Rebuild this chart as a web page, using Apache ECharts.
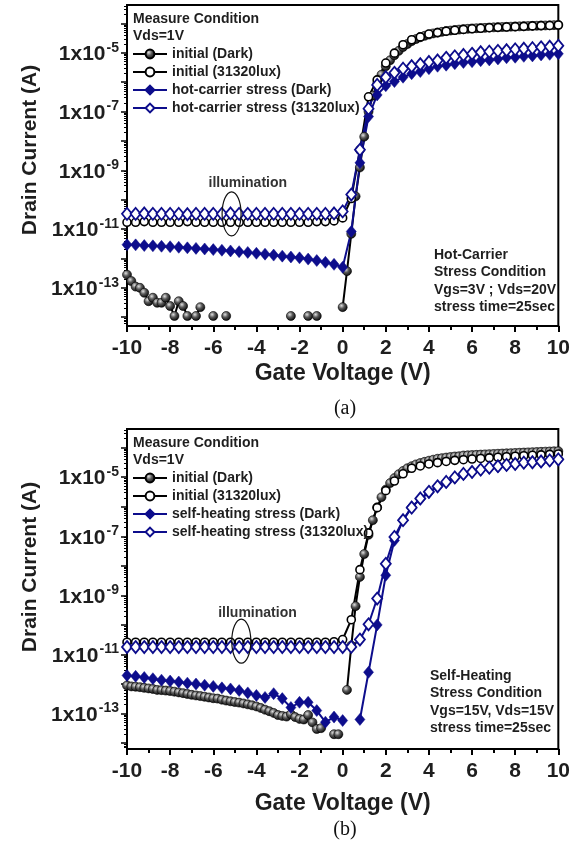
<!DOCTYPE html>
<html>
<head>
<meta charset="utf-8">
<script src="https://cdn.jsdelivr.net/npm/echarts@6/dist/echarts.min.js"></script>
<style>html,body{margin:0;padding:0;background:#fff;}#c{width:573px;height:843px;}</style>
</head>
<body>
<div id="c"></div>
<script>
// ---- Gate voltage grids (V) ----
const vgs04 = [-10,-9.6,-9.2,-8.8,-8.4,-8,-7.6,-7.2,-6.8,-6.4,-6,-5.6,-5.2,-4.8,-4.4,-4,-3.6,-3.2,-2.8,-2.4,-2,-1.6,-1.2,-0.8,-0.4,0,0.4,0.8,1.2,1.6,2,2.4,2.8,3.2,3.6,4,4.4,4.8,5.2,5.6,6,6.4,6.8,7.2,7.6,8,8.4,8.8,9.2,9.6,10];
const vgs02 = [-10,-9.8,-9.6,-9.4,-9.2,-9,-8.8,-8.6,-8.4,-8.2,-8,-7.8,-7.6,-7.4,-7.2,-7,-6.8,-6.6,-6.4,-6.2,-6,-5.8,-5.6,-5.4,-5.2,-5,-4.8,-4.6,-4.4,-4.2,-4,-3.8,-3.6,-3.4,-3.2,-3,-2.8,-2.6,-2.4,-2.2,-2,-1.8,-1.6,-1.4,-1.2,-1,-0.8,-0.6,-0.4,-0.2,0,0.2,0.4,0.6,0.8,1,1.2,1.4,1.6,1.8,2,2.2,2.4,2.6,2.8,3,3.2,3.4,3.6,3.8,4,4.2,4.4,4.6,4.8,5,5.2,5.4,5.6,5.8,6,6.2,6.4,6.6,6.8,7,7.2,7.4,7.6,7.8,8,8.2,8.4,8.6,8.8,9,9.2,9.4,9.6,9.8,10];

// ---- Panel (a): drain current (A) ----
const a_initDark = [2.8e-13,1.7e-13,1.1e-13,1.0e-13,6.8e-14,3.5e-14,4.6e-14,3.1e-14,3.1e-14,4.6e-14,2.4e-14,1.1e-14,3.5e-14,2.4e-14,1.1e-14,null,1.1e-14,2.2e-14,null,null,1.1e-14,null,null,1.1e-14,null,null,null,null,null,null,null,null,null,null,null,null,null,null,1.1e-14,null,null,null,1.1e-14,null,1.1e-14,null,null,null,null,null,2.2e-14,3.7e-13,6.9e-12,1.3e-10,1.26e-9,1.4e-8,1.0e-7,3.5e-7,8.9e-7,1.8e-6,3.5e-6,5.6e-6,8.3e-6,1.17e-5,1.58e-5,2.0e-5,2.5e-5,2.95e-5,3.4e-5,3.8e-5,4.2e-5,4.6e-5,4.9e-5,5.2e-5,5.5e-5,5.75e-5,6.0e-5,6.2e-5,6.4e-5,6.6e-5,6.8e-5,6.9e-5,7.0e-5,7.1e-5,7.3e-5,7.4e-5,7.5e-5,7.6e-5,7.7e-5,7.8e-5,7.9e-5,8.0e-5,8.1e-5,8.2e-5,8.3e-5,8.4e-5,8.5e-5,8.6e-5,8.7e-5,8.8e-5,8.9e-5];
const a_initLight = [1.7e-11,1.7e-11,1.8e-11,1.7e-11,1.7e-11,1.7e-11,1.7e-11,1.8e-11,1.7e-11,1.7e-11,1.7e-11,1.7e-11,1.7e-11,1.7e-11,1.7e-11,1.7e-11,1.7e-11,1.7e-11,1.7e-11,1.7e-11,1.7e-11,1.7e-11,1.8e-11,1.8e-11,1.9e-11,2.4e-11,1.1e-10,5.0e-9,3.2e-7,1.2e-6,4.5e-6,9.8e-6,1.9e-5,2.8e-5,3.5e-5,4.4e-5,4.9e-5,5.5e-5,5.9e-5,6.3e-5,6.6e-5,6.9e-5,7.2e-5,7.4e-5,7.6e-5,7.8e-5,8.0e-5,8.3e-5,8.5e-5,8.6e-5,8.9e-5];
const a_stressDark = [2.95e-12,2.9e-12,2.75e-12,2.7e-12,2.6e-12,2.5e-12,2.4e-12,2.3e-12,2.2e-12,2.1e-12,2.0e-12,1.9e-12,1.8e-12,1.7e-12,1.6e-12,1.5e-12,1.4e-12,1.3e-12,1.2e-12,1.12e-12,1.05e-12,9.5e-13,8.5e-13,7.4e-13,6.3e-13,5.0e-13,8.3e-12,1.8e-9,6.8e-8,3.7e-7,7.6e-7,1.05e-6,1.48e-6,1.95e-6,2.3e-6,2.9e-6,3.5e-6,3.8e-6,4.3e-6,4.7e-6,5.0e-6,5.4e-6,5.75e-6,6.2e-6,6.8e-6,7.1e-6,7.6e-6,7.9e-6,8.5e-6,8.9e-6,9.3e-6];
const a_stressLight = [3.3e-11,3.3e-11,3.4e-11,3.3e-11,3.3e-11,3.3e-11,3.3e-11,3.2e-11,3.3e-11,3.3e-11,3.3e-11,3.3e-11,3.4e-11,3.3e-11,3.3e-11,3.3e-11,3.3e-11,3.3e-11,3.3e-11,3.3e-11,3.3e-11,3.3e-11,3.3e-11,3.3e-11,3.4e-11,4.0e-11,1.5e-10,5.0e-9,1.26e-7,8.1e-7,1.48e-6,2.1e-6,2.9e-6,3.5e-6,4.1e-6,4.9e-6,5.5e-6,6.8e-6,7.6e-6,8.5e-6,9.3e-6,1.05e-5,1.1e-5,1.17e-5,1.23e-5,1.32e-5,1.38e-5,1.45e-5,1.55e-5,1.62e-5,1.74e-5];

// ---- Panel (b): drain current (A) ----
const b_initDark = [8.9e-13,8.3e-13,8.1e-13,7.8e-13,7.4e-13,7.1e-13,6.8e-13,6.3e-13,6.2e-13,6.0e-13,5.8e-13,5.5e-13,5.2e-13,4.9e-13,4.6e-13,4.3e-13,4.1e-13,3.9e-13,3.7e-13,3.5e-13,3.3e-13,3.2e-13,2.95e-13,2.75e-13,2.6e-13,2.45e-13,2.35e-13,2.2e-13,2.05e-13,1.9e-13,1.74e-13,1.55e-13,1.35e-13,1.2e-13,1.05e-13,8.9e-14,8.3e-14,7.9e-14,9.5e-14,7.6e-14,6.6e-14,6.3e-14,8.9e-14,5.0e-14,3.0e-14,3.2e-14,null,null,2.0e-14,2.0e-14,null,6.3e-13,2.0e-11,4.3e-10,4.2e-9,2.5e-8,1.12e-7,3.5e-7,9.5e-7,2.1e-6,3.8e-6,6.3e-6,9.3e-6,1.26e-5,1.62e-5,2.0e-5,2.35e-5,2.7e-5,3.0e-5,3.3e-5,3.6e-5,3.9e-5,4.2e-5,4.4e-5,4.6e-5,4.8e-5,5.0e-5,5.1e-5,5.4e-5,5.5e-5,5.6e-5,5.7e-5,5.8e-5,5.9e-5,6.0e-5,6.1e-5,6.2e-5,6.3e-5,6.4e-5,6.5e-5,6.6e-5,6.7e-5,6.8e-5,6.9e-5,7.0e-5,7.1e-5,7.2e-5,7.3e-5,7.4e-5,7.5e-5,7.6e-5];
const b_initLight = [2.6e-11,2.6e-11,2.6e-11,2.6e-11,2.6e-11,2.6e-11,2.6e-11,2.6e-11,2.6e-11,2.6e-11,2.6e-11,2.6e-11,2.6e-11,2.6e-11,2.6e-11,2.6e-11,2.6e-11,2.6e-11,2.6e-11,2.6e-11,2.6e-11,2.6e-11,2.6e-11,2.6e-11,2.7e-11,3.2e-11,1.5e-10,7.4e-9,1.3e-7,9.3e-7,3.5e-6,7.4e-6,1.3e-5,2.0e-5,2.4e-5,2.8e-5,3.1e-5,3.4e-5,3.7e-5,3.9e-5,4.1e-5,4.3e-5,4.5e-5,4.7e-5,4.9e-5,5.1e-5,5.3e-5,5.5e-5,5.7e-5,5.9e-5,6.1e-5];
const b_stressDark = [1.95e-12,1.82e-12,1.66e-12,1.51e-12,1.35e-12,1.26e-12,1.17e-12,1.07e-12,1.0e-12,9.1e-13,8.3e-13,7.4e-13,6.8e-13,6.0e-13,5.0e-13,4.1e-13,3.5e-13,4.7e-13,3.2e-13,1.6e-13,2.4e-13,2.4e-13,1.26e-13,5.1e-14,7.6e-14,5.8e-14,null,6.3e-14,2.5e-12,1.0e-10,4.8e-9,7.2e-8,3.5e-7,1.0e-6,1.78e-6,3.0e-6,4.7e-6,6.6e-6,9.3e-6,1.23e-5,1.45e-5,1.74e-5,2.0e-5,2.24e-5,2.5e-5,2.7e-5,2.95e-5,3.1e-5,3.2e-5,3.5e-5,3.8e-5];
const b_stressLight = [1.78e-11,1.78e-11,1.78e-11,1.78e-11,1.78e-11,1.78e-11,1.78e-11,1.78e-11,1.78e-11,1.78e-11,1.78e-11,1.78e-11,1.78e-11,1.78e-11,1.78e-11,1.78e-11,1.78e-11,1.78e-11,1.78e-11,1.78e-11,1.78e-11,1.78e-11,1.78e-11,1.78e-11,1.78e-11,1.78e-11,1.8e-11,3.2e-11,1.05e-10,7.8e-10,1.17e-8,9.5e-8,3.5e-7,9.3e-7,1.9e-6,3.2e-6,4.9e-6,6.9e-6,9.8e-6,1.29e-5,1.5e-5,1.8e-5,2.1e-5,2.35e-5,2.6e-5,2.8e-5,3.1e-5,3.2e-5,3.4e-5,3.7e-5,4.0e-5];

// ---- labels ----
const xTicks = [-10,-8,-6,-4,-2,0,2,4,6,8,10];
const yLabelExps = [-13,-11,-9,-7,-5];
const yTickExps = [-14,-13,-12,-11,-10,-9,-8,-7,-6,-5,-4];
const namesA = ['initial (Dark)','initial (31320lux)','hot-carrier stress (Dark)','hot-carrier stress (31320lux)'];
const namesB = ['initial (Dark)','initial (31320lux)','self-heating stress (Dark)','self-heating stress (31320lux)'];
const noteA = ['Hot-Carrier','Stress Condition','Vgs=3V ; Vds=20V','stress time=25sec'];
const noteB = ['Self-Heating','Stress Condition','Vgs=15V, Vds=15V','stress time=25sec'];
const yTitle = 'Drain Current (A)';

const FONT = '"Liberation Sans", Arial, sans-serif';
const TXT = '#1e1e1e';
const BLUE = '#0d0d8c';

function toPts(xs, ys){ return xs.map((x,i)=> [x, ys[i]==null ? '-' : Math.log10(ys[i])]); }

const minorExps = [];
for (let n=-15; n<=-4; n++) for (let k=2;k<=9;k++) minorExps.push(n+Math.log10(k));

const sphere = {type:'radial', x:0.38, y:0.35, r:0.65, colorStops:[{offset:0,color:'#e0e0e0'},{offset:0.45,color:'#5a5a5a'},{offset:1,color:'#0a0a0a'}]};

function styles(kind){
  if (kind==='initDark') return {symbol:'circle', symbolSize:9, itemStyle:{color:sphere, borderColor:'#000', borderWidth:0.6}, lineStyle:{color:'#000', width:2}};
  if (kind==='initLight') return {symbol:'circle', symbolSize:8, itemStyle:{color:'#fff', borderColor:'#000', borderWidth:1.6}, lineStyle:{color:'#000', width:2}};
  if (kind==='stressDark') return {symbol:'diamond', symbolSize:[10,12], itemStyle:{color:BLUE, borderColor:BLUE, borderWidth:0.5}, lineStyle:{color:BLUE, width:2}};
  return {symbol:'diamond', symbolSize:[10,12], itemStyle:{color:'#fff', borderColor:BLUE, borderWidth:1.8}, lineStyle:{color:BLUE, width:2}};
}

function mkSeries(name, kind, xs, ys, gi){
  return Object.assign({name, type:'line', xAxisIndex:gi, yAxisIndex:gi*2, data:toPts(xs,ys), connectNulls:false, animation:false, z: 2}, styles(kind));
}

const grids = [
  {left:127, top:5, right:13, height:321, yMin:-14.3, yMax:-3.37},
  {left:127, top:429, right:12, height:320, yMin:-14.2, yMax:-3.37}
];

const xAxes = grids.map((g,i)=>({
  type:'value', gridIndex:i, min:-10, max:10, interval:2,
  axisLine:{onZero:false, lineStyle:{color:'#000', width:2}},
  axisTick:{inside:false, length:6, lineStyle:{color:'#000', width:2}},
  minorTick:{show:true, splitNumber:2, length:4, lineStyle:{color:'#000', width:2}},
  splitLine:{show:false},
  axisLabel:{color:TXT, fontFamily:FONT, fontWeight:'bold', fontSize:21, margin:12},
  name:'Gate Voltage (V)', nameLocation:'middle', nameGap: i===0?36:43,
  nameTextStyle:{color:TXT, fontFamily:FONT, fontWeight:'bold', fontSize:23}
}));

const yAxes = [];
grids.forEach((g,i)=>{
  yAxes.push({
    type:'value', gridIndex:i, min:g.yMin, max:g.yMax, position:'left',
    axisLine:{onZero:false, lineStyle:{color:'#000', width:2}},
    axisTick:{inside:false, length:6, lineStyle:{color:'#000', width:1.5}, customValues:yTickExps},
    splitLine:{show:false},
    axisLabel:{customValues:yLabelExps, margin:8, formatter:(v)=>'{a|1x10}{b|'+Math.round(v)+'}',
      rich:{a:{fontFamily:FONT, fontWeight:'bold', fontSize:21, color:TXT, lineHeight:24, verticalAlign:'bottom'},
            b:{fontFamily:FONT, fontWeight:'bold', fontSize:14, color:TXT, lineHeight:24, verticalAlign:'top', padding:[0,0,0,1]}}}
  });
  yAxes.push({
    type:'value', gridIndex:i, min:g.yMin, max:g.yMax, position:'left',
    axisLine:{show:false, onZero:false},
    axisTick:{inside:false, length:3, lineStyle:{color:'#000', width:1}, customValues:minorExps.filter(e=>e>g.yMin && e<g.yMax)},
    axisLabel:{show:false}, splitLine:{show:false}
  });
});

const series = [
  mkSeries(namesA[0],'initDark',vgs02,a_initDark,0),
  mkSeries(namesA[1],'initLight',vgs04,a_initLight,0),
  mkSeries(namesA[2],'stressDark',vgs04,a_stressDark,0),
  mkSeries(namesA[3],'stressLight',vgs04,a_stressLight,0),
  mkSeries(namesB[0],'initDark',vgs02,b_initDark,1),
  mkSeries(namesB[1],'initLight',vgs04,b_initLight,1),
  mkSeries(namesB[2],'stressDark',vgs04,b_stressDark,1),
  mkSeries(namesB[3],'stressLight',vgs04,b_stressLight,1)
];

const legendCommon = {orient:'vertical', left:132, padding:0, itemWidth:34, itemHeight:11, itemGap:2, selectedMode:false,
  textStyle:{color:TXT, fontFamily:FONT, fontWeight:'bold', fontSize:14, lineHeight:16}};

const chart = echarts.init(document.getElementById('c'), null, {renderer:'canvas', width:573, height:843});
chart.setOption({
  backgroundColor:'#fff',
  animation:false,
  grid: grids.map(g=>({left:g.left, top:g.top, right:g.right, height:g.height, show:true, borderColor:'#000', borderWidth:2, backgroundColor:'transparent', containLabel:false})),
  xAxis: xAxes,
  yAxis: yAxes,
  legend: [
    Object.assign({top:46, data:namesA}, legendCommon),
    Object.assign({top:470, data:namesB}, legendCommon)
  ],
  series
});

function textEl(x, y, text, opts){
  return {type:'text', x, y, silent:true, z:10, style:Object.assign({text, fill:TXT, font:'bold 14px '+FONT, align:'left', verticalAlign:'middle'}, opts||{})};
}
const g = [];
const headerY = [19, 443];
[0,1].forEach(i=>{
  g.push(textEl(133, headerY[i], 'Measure Condition'));
  g.push(textEl(133, headerY[i]+17, 'Vds=1V'));
});
// y-axis titles
[150, 567].forEach(cy=>{
  const el = textEl(30, cy, yTitle, {align:'center', font:'bold 21px '+FONT});
  el.rotation = Math.PI/2;
  g.push(el);
});
const noteTop = [255, 676];
const noteX = [434, 430];
[noteA, noteB].forEach((lines,i)=>{
  lines.forEach((t,k)=> g.push(textEl(noteX[i], noteTop[i]+k*17.5, t)));
});
// illumination markers (data coordinates)
const ill = [{gi:0, pt:[-5.15,-10.48], lbl:[-4.4,-9.45]}, {gi:1, pt:[-4.7,-10.55], lbl:[-3.95,-9.6]}];
ill.forEach(o=>{
  const c = chart.convertToPixel({gridIndex:o.gi}, o.pt);
  const l = chart.convertToPixel({gridIndex:o.gi}, o.lbl);
  g.push({type:'ellipse', z:10, silent:true, shape:{cx:c[0], cy:c[1], rx:9.5, ry:22}, style:{fill:'none', stroke:'#111', lineWidth:1.2}});
  g.push(textEl(l[0], l[1], 'illumination', {align:'center', font:'bold 14px '+FONT, fill:'#333'}));
});
g.push(textEl(345, 409, '(a)', {align:'center', font:'20px "Liberation Serif", "Times New Roman", serif', fill:'#111'}));
g.push(textEl(345, 830, '(b)', {align:'center', font:'20px "Liberation Serif", "Times New Roman", serif', fill:'#111'}));
chart.setOption({graphic:{elements:g}});
</script>
</body>
</html>
